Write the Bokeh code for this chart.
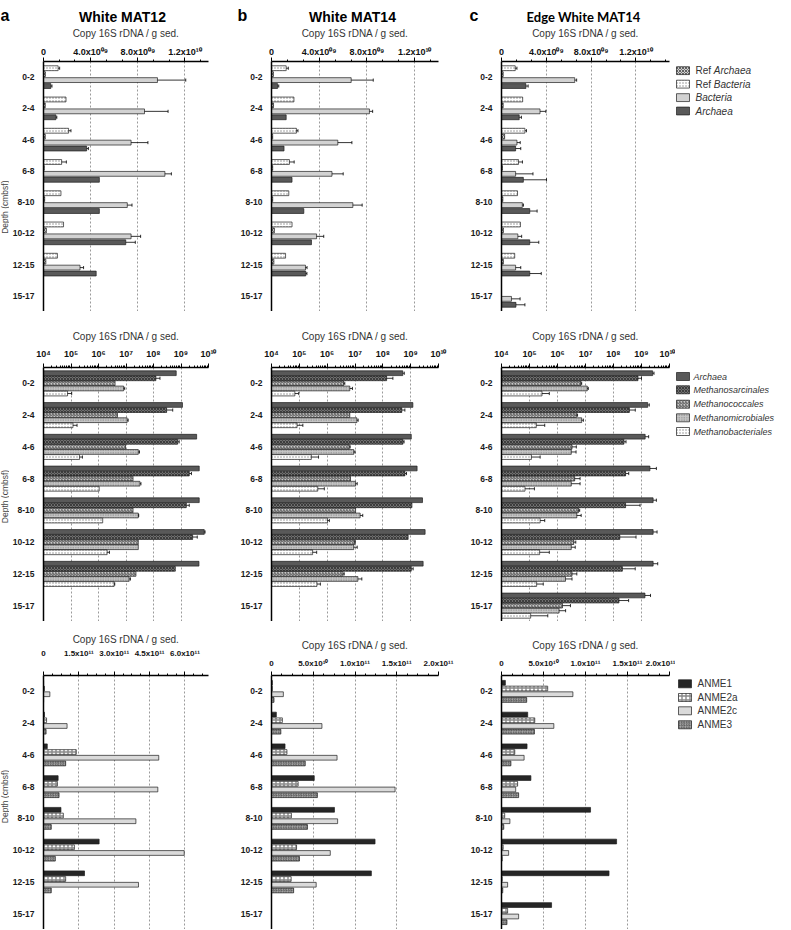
import math
from bokeh.plotting import figure
from bokeh.models import Range1d, FixedTicker, ColumnDataSource
from bokeh.layouts import row, column
from bokeh.embed import file_html
from bokeh.resources import INLINE
from bokeh.core.properties import value

FONT = "Liberation Sans"

depths = ["0-2", "2-4", "4-6", "6-8", "8-10", "10-12", "12-15", "15-17"]

# ---------------- Row 1: total 16S (linear) ----------------
a_ref_bac = [1.24e9, 1.91e9, 2.13e9, 1.54e9, 1.48e9, 1.70e9, 1.18e9, None]
a_ref_bac_err = [0.13e9, 0, 0.2e9, 0.4e9, 0, 0, 0, None]
a_ref_arc = [0.16e9, 0.15e9, 0.15e9, 0.06e9, 0.10e9, 0.24e9, 0.20e9, None]
a_bac = [9.67e9, 8.57e9, 7.43e9, 10.3e9, 7.11e9, 7.43e9, 3.1e9, None]
a_bac_err = [2.4e9, 2.0e9, 1.43e9, 0.55e9, 0.4e9, 0.81e9, 0.3e9, None]
a_arc = [0.62e9, 1.05e9, 3.66e9, 4.74e9, 4.74e9, 6.98e9, 4.47e9, None]
a_arc_err = [0.1e9, 0.08e9, 0.15e9, 0, 0, 0.81e9, 0, None]

b_ref_bac = [1.23e9, 1.88e9, 2.09e9, 1.50e9, 1.45e9, 1.72e9, 1.18e9, None]
b_ref_bac_err = [0.18e9, 0, 0.13e9, 0.4e9, 0, 0, 0, None]
b_ref_arc = [0.16e9, 0.17e9, 0.10e9, 0.10e9, 0.10e9, 0.24e9, 0.20e9, None]
b_bac = [6.68e9, 8.21e9, 5.56e9, 5.07e9, 6.82e9, 3.78e9, 2.85e9, None]
b_bac_err = [1.85e9, 0.27e9, 1.18e9, 0.94e9, 0.78e9, 0.6e9, 0.13e9, None]
b_arc = [0.51e9, 1.23e9, 1.05e9, 1.72e9, 2.71e9, 3.35e9, 2.87e9, None]
b_arc_err = [0.1e9, 0, 0, 0, 0, 0, 0.1e9, None]

c_ref_bac = [1.23e9, 1.89e9, 2.09e9, 1.52e9, 1.43e9, 1.69e9, 1.18e9, None]
c_ref_bac_err = [0.15e9, 0, 0.14e9, 0.35e9, 0, 0, 0, None]
c_ref_arc = [0.15e9, 0.15e9, 0.28e9, 0.08e9, 0.12e9, 0.17e9, 0.17e9, None]
c_bac = [6.54e9, 3.44e9, 1.38e9, 1.26e9, 1.86e9, 1.46e9, 1.26e9, 0.89e9]
c_bac_err = [0.17e9, 0.52e9, 0.29e9, 1.55e9, 0.1e9, 0.34e9, 0.46e9, 0.77e9]
c_arc = [2.18e9, 1.58e9, 1.26e9, 1.95e9, 2.52e9, 2.52e9, 2.52e9, 1.29e9]
c_arc_err = [0.2e9, 0.2e9, 0.46e9, 2.07e9, 0.66e9, 0.81e9, 1.03e9, 0.8e9]

# ---------------- Row 2: archaeal orders (log) ----------------
a_arch2 = [6.7e8, 1.13e9, 3.7e9, 4.6e9, 4.6e9, 7.0e9, 4.5e9, None]
a_arch2_err = [0, 0, 0, 0, 0, 0.5e9, 0, None]
a_msar = [1.22e8, 3.0e8, 7.6e8, 2.0e9, 1.56e9, 2.65e9, 6.2e8, None]
a_msar_err = [0.5e8, 2.0e8, 1.0e8, 0.4e9, 0.44e9, 1.25e9, 0, None]
a_mcoc = [4.0e6, 4.9e6, 9.6e6, 1.8e7, 1.8e7, 2.8e7, 2.3e7, None]
a_mcoc_err = [0, 0, 0, 0, 0, 0, 0, None]
a_mmic = [8.2e6, 1.1e7, 2.8e7, 3.2e7, 2.8e7, 2.8e7, 1.3e7, None]
a_mmic_err = [0.8e6, 0.1e7, 0.3e7, 0.3e7, 0.1e7, 0, 0.15e7, None]
a_mbac = [7.5e4, 1.18e5, 2.05e5, 1.06e6, 1.42e6, 2.06e6, 3.7e6, None]
a_mbac_err = [3.1e4, 0.48e5, 0.55e5, 0, 0, 0.44e6, 0.2e6, None]

b_arch2 = [5.2e8, 1.2e9, 1.05e9, 1.7e9, 2.66e9, 3.3e9, 2.8e9, None]
b_arch2_err = [0.7e8, 0, 0, 0, 0, 0, 0, None]
b_msar = [1.37e8, 4.8e8, 5.3e8, 6.2e8, 1.11e9, 8.1e8, 1.05e9, None]
b_msar_err = [0.93e8, 1.4e8, 0.5e8, 0.9e8, 0, 0, 0.18e9, None]
b_mcoc = [3.9e6, 6.5e6, 6.2e6, 6.9e6, 1.05e7, 9.7e6, 3.7e6, None]
b_mcoc_err = [0.4e6, 0, 0.5e6, 0, 0, 0.5e6, 0.4e6, None]
b_mmic = [6.5e6, 1.17e7, 9.0e6, 1.05e7, 1.53e7, 9.0e6, 1.27e7, None]
b_mmic_err = [1.6e6, 0.13e7, 1.0e6, 0.15e7, 0.37e7, 3.0e6, 0.49e7, None]
b_mbac = [6.9e4, 8.3e4, 2.7e5, 4.6e5, 1.03e6, 3.0e5, 4.3e5, None]
b_mbac_err = [2.6e4, 5.1e4, 2.2e5, 3.3e5, 0.17e6, 1.2e5, 1.4e5, None]

c_arch2 = [2.5e9, 1.67e9, 1.35e9, 2.0e9, 2.6e9, 2.6e9, 2.6e9, 1.33e9]
c_arch2_err = [0.3e9, 0.23e9, 0.45e9, 1.4e9, 0.8e9, 1.0e9, 1.2e9, 0.77e9]
c_msar = [7.5e8, 3.7e8, 2.37e8, 2.7e8, 2.7e8, 1.68e8, 2.07e8, 1.57e8]
c_msar_err = [2.5e8, 2.3e8, 0.43e8, 0.8e8, 6.2e8, 4.7e8, 3.9e8, 1.9e8]
c_mcoc = [6.8e6, 4.7e6, 3.3e6, 4.1e6, 5.6e6, 3.8e6, 3.3e6, 1.5e6]
c_mcoc_err = [0.5e6, 0.5e6, 1.4e6, 2.3e6, 0.6e6, 0.7e6, 1.6e6, 1.4e6]
c_mmic = [1.16e7, 7.3e6, 3.1e6, 3.1e6, 4.9e6, 3.1e6, 1.93e6, 1.14e6]
c_mmic_err = [0.1e7, 1.1e6, 1.5e6, 3.3e6, 2.1e6, 1.2e6, 1.37e6, 0.81e6]
c_mbac = [2.8e5, 1.75e5, 1.17e5, 6.9e4, 2.4e5, 2.3e5, 1.8e5, 1.1e5]
c_mbac_err = [2.3e5, 1.75e5, 1.23e5, 8.1e4, 1.1e5, 2.8e5, 1.3e5, 3.4e5]

# ---------------- Row 3: ANME groups (linear) ----------------
a_anme1 = [0.05e10, 0.4e10, 1.6e10, 6.2e10, 7.4e10, 23.6e10, 17.4e10, None]
a_anme2a = [0.4e10, 1.3e10, 13.9e10, 5.9e10, 8.4e10, 13.1e10, 9.4e10, None]
a_anme2c = [2.7e10, 10.0e10, 48.9e10, 48.5e10, 39.2e10, 59.7e10, 40.3e10, None]
a_anme3 = [0.05e10, 1.1e10, 9.4e10, 6.6e10, 3.3e10, 5.0e10, 3.3e10, None]

b_anme1 = [0.1e10, 0.58e10, 1.62e10, 5.12e10, 7.54e10, 12.4e10, 11.96e10, None]
b_anme2a = [0.1e10, 1.3e10, 1.85e10, 3.19e10, 2.38e10, 3.0e10, 2.35e10, None]
b_anme2c = [1.42e10, 6.04e10, 7.85e10, 14.8e10, 7.92e10, 7.04e10, 5.35e10, None]
b_anme3 = [0.3e10, 1.12e10, 4.04e10, 5.5e10, 4.31e10, 3.35e10, 2.65e10, None]

c_anme1 = [0.46e10, 3.12e10, 3.04e10, 3.5e10, 10.6e10, 13.7e10, 12.8e10, 5.96e10]
c_anme2a = [5.5e10, 3.96e10, 1.58e10, 1.92e10, 0.38e10, 0.2e10, 0.08e10, 0.73e10]
c_anme2c = [8.5e10, 6.23e10, 2.69e10, 1.69e10, 1.0e10, 0.85e10, 0.73e10, 2.04e10]
c_anme3 = [3.0e10, 3.92e10, 1.12e10, 2.04e10, 0.27e10, 0.08e10, 0.15e10, 0.65e10]

# ---------------- ticks ----------------
lin1_ticks = [0, 4.0e9, 8.0e9, 1.2e10]
lin1_labels = ["0", "4.0x10\u2070\u2079", "8.0x10\u2070\u2079", "1.2x10\u00b9\u2070"]
log_ticks = [1e4, 1e5, 1e6, 1e7, 1e8, 1e9, 1e10]
log_labels = ["10\u2074", "10\u2075", "10\u2076", "10\u2077", "10\u2078", "10\u2079", "10\u00b9\u2070"]
anme_a_ticks = [0, 1.5e11, 3.0e11, 4.5e11, 6.0e11]
anme_a_labels = ["0", "1.5x10\u00b9\u00b9", "3.0x10\u00b9\u00b9", "4.5x10\u00b9\u00b9", "6.0x10\u00b9\u00b9"]
anme_bc_ticks = [0, 5.0e10, 1.0e11, 1.5e11, 2.0e11]
anme_bc_labels = ["0", "5.0x10\u00b9\u2070", "1.0x10\u00b9\u00b9", "1.5x10\u00b9\u00b9", "2.0x10\u00b9\u00b9"]

lin1_minor = [k * 4e9 / 3 for k in range(1, 12) if k % 3]
log_minor = [m * 10 ** d for d in range(4, 10) for m in range(2, 10)]
anme_a_minor = [k * 1.5e11 / 4 for k in range(1, 19) if k % 4]
anme_bc_minor = [k * 5e10 / 4 for k in range(1, 17) if k % 4]

# ---------------- styles ----------------
S_REF_ARC = dict(fill_color="#cfcfcf", hatch_pattern="diagonal_cross", hatch_color="#333333", hatch_scale=3.0, hatch_weight=0.7)
S_REF_BAC = dict(fill_color="#ffffff", hatch_pattern="dot", hatch_color="#8a8a8a", hatch_scale=3.0, hatch_weight=0.6)
S_BAC = dict(fill_color="#d2d2d2")
S_ARC = dict(fill_color="#595959")
S_MSAR = dict(fill_color="#707070", hatch_pattern="diagonal_cross", hatch_color="#262626", hatch_scale=3.0, hatch_weight=0.7)
S_MCOC = dict(fill_color="#c8c8c8", hatch_pattern="right_diagonal_line", hatch_color="#3c3c3c", hatch_scale=3.0, hatch_weight=0.8)
S_MMIC = dict(fill_color="#c6c6c6", hatch_pattern="dot", hatch_color="#7a7a7a", hatch_scale=2.5, hatch_weight=0.5)
S_MBAC = S_REF_BAC
S_ANME1 = dict(fill_color="#262626")
S_ANME2A = dict(fill_color="#ffffff", hatch_pattern="cross", hatch_color="#8a8a8a", hatch_scale=4.0, hatch_weight=1.4)
S_ANME2C = dict(fill_color="#dadada")
S_ANME3 = dict(fill_color="#a8a8a8", hatch_pattern="right_diagonal_line", hatch_color="#4a4a4a", hatch_scale=2.5, hatch_weight=0.7)

LINE = dict(line_color="#1e1e1e", line_width=0.7)


def panel(series, x_lo, x_hi, log, ticks, labels, minors, width, height, bl, br, bt,
          pitch, bh, lab_stand, ax_stand, tick_font="9px"):
    p = figure(width=width, height=height, x_range=Range1d(x_lo, x_hi), y_range=Range1d(8, 0),
               x_axis_type="log" if log else "linear", x_axis_location="above",
               toolbar_location=None, output_backend="svg", title=None,
               min_border_left=bl, min_border_right=br, min_border_top=bt, min_border_bottom=0)
    n = len(series)
    for k, (vals, errs, sty) in enumerate(series):
        off = (k - (n - 1) / 2) * pitch
        ys = [i + 0.5 + off for i, v in enumerate(vals) if v is not None]
        xs = [v for v in vals if v is not None]
        src = ColumnDataSource(dict(y=ys, right=xs, left=[x_lo] * len(xs)))
        p.hbar(y="y", left="left", right="right", height=bh, source=src, **LINE, **sty)
        if errs is not None:
            ey, ex0, ex1 = [], [], []
            for i, (v, e) in enumerate(zip(vals, errs)):
                if v is None or not e:
                    continue
                ey.append(i + 0.5 + off)
                ex0.append(v)
                ex1.append(v + e)
            if ey:
                es = ColumnDataSource(dict(y=ey, x0=ex0, x1=ex1,
                                           y0=[y - 0.05 for y in ey], y1=[y + 0.05 for y in ey]))
                p.segment(x0="x0", y0="y", x1="x1", y1="y", source=es, line_color="black", line_width=0.8)
                p.segment(x0="x1", y0="y0", x1="x1", y1="y1", source=es, line_color="black", line_width=0.8)
    ax = p.xaxis[0]
    ax.ticker = FixedTicker(ticks=ticks, minor_ticks=minors)
    ax.major_label_overrides = {t: l for t, l in zip(ticks, labels)}
    ax.axis_label = "Copy 16S rDNA / g sed."
    ax.axis_label_text_font = FONT
    ax.axis_label_text_font_size = "10px"
    ax.axis_label_text_font_style = "normal"
    ax.axis_label_text_color = "#333333"
    ax.axis_label_standoff = ax_stand
    ax.major_label_text_font = FONT
    ax.major_label_text_font_size = tick_font
    ax.major_label_text_font_style = "bold"
    ax.major_label_text_color = "#111111"
    ax.major_label_standoff = lab_stand
    ax.axis_line_width = 1.5
    ax.major_tick_out = 4
    ax.major_tick_in = 0
    ax.minor_tick_out = 2
    ax.minor_tick_in = 0
    ax.major_tick_line_width = 1
    ax.minor_tick_line_width = 1
    ya = p.yaxis[0]
    ya.ticker = FixedTicker(ticks=[i + 0.5 for i in range(len(depths))], minor_ticks=[])
    ya.major_label_overrides = {i + 0.5: d for i, d in enumerate(depths)}
    ya.major_label_text_font = FONT
    ya.major_label_text_font_size = "8.5px"
    ya.major_label_text_font_style = "bold"
    ya.major_label_text_color = "#1a1a1a"
    ya.major_label_standoff = 3
    ya.major_tick_line_color = None
    ya.minor_tick_line_color = None
    ya.axis_line_width = 1.5
    p.ygrid.visible = False
    p.xgrid.grid_line_color = "#808080"
    p.xgrid.grid_line_dash = "2 2"
    p.xgrid.grid_line_width = 0.8
    p.outline_line_color = None
    return p


def blank(w, h, xr, yr, bt=0):
    p = figure(width=w, height=h, x_range=Range1d(*xr), y_range=Range1d(*yr),
               x_axis_location=None, y_axis_location=None, toolbar_location=None,
               output_backend="svg", title=None, min_border=0,
               min_border_left=0, min_border_right=0, min_border_top=bt, min_border_bottom=0)
    p.grid.visible = False
    p.outline_line_color = None
    return p


# layout geometry (page pixels; layout starts at x=8, y=0)
X0 = 8
X_END = 783
W_YL, W_A, W_B, W_C = 9, 228, 230, 208
X_LEG = X0 + W_YL + W_A + W_B + W_C
W_L = X_END - X_LEG
BL_A, BL_B, BL_C = 26, 28, 29
BR_A, BR_B, BR_C = 29, 29, 6
HEADER_H = 24
rows_geo = [  # (height, border_top, page_top)
    (287, 33, 24),
    (310, 56, 311),
    (308, 54, 621),
]

# header
header = blank(X_END - X0, HEADER_H, (X0, X_END), (HEADER_H, 0))
header.text(x=[8, 245, 477], y=[15, 15, 15], text=["a", "b", "c"], text_font=value(FONT),
            text_font_size="16px", text_font_style="bold", text_align="left",
            text_baseline="alphabetic", text_color="#000000")
header.text(x=[130, 360], y=[16, 16], text=["White MAT12", "White MAT14"], text_font=value(FONT),
            text_font_size="14px", text_font_style="bold", text_align="center",
            text_baseline="alphabetic", text_color="#000000")
header.text(x=[591], y=[16], text=["Edge White MAT14"], text_font=value("Lato"),
            text_font_size="13px", text_font_style="bold", text_align="center",
            text_baseline="alphabetic", text_color="#000000")


def ylab(h, bt, top, cy):
    ftop = top + bt
    f = blank(W_YL, h, (X0, X0 + W_YL), (top + h, ftop), bt)
    f.text(x=[12.5], y=[cy], text=["Depth (cmbsf)"], angle=math.pi / 2, text_font=value(FONT),
           text_font_size="8.5px", text_align="center", text_baseline="middle", text_color="#444444")
    return f


def legend(h, bt, top, entries, box_x, text_x, ys, fsize):
    ftop = top + bt
    f = blank(W_L, h, (X_LEG, X_END), (top + h, ftop), bt)
    for (lbl_parts, sty), y in zip(entries, ys):
        f.rect(x=[box_x + 6.5], y=[y], width=13, height=8, **LINE, **sty)
        x = text_x
        for txt, style, wdt in lbl_parts:
            f.text(x=[x], y=[y], text=[txt], text_font=value(FONT), text_font_size=fsize,
                   text_font_style=style, text_align="left", text_baseline="middle",
                   text_color="#333333")
            x += wdt
    return f


rows = []

# ---- row 1 ----
h, bt, top = rows_geo[0]
p1a = panel([(a_ref_bac, a_ref_bac_err, S_REF_BAC), (a_ref_arc, None, S_REF_ARC),
             (a_bac, a_bac_err, S_BAC), (a_arc, a_arc_err, S_ARC)],
            0, 1.4e10, False, lin1_ticks, lin1_labels, lin1_minor, W_A, h, BL_A, BR_A, bt,
            0.19, 0.155, 1, 5)
p1b = panel([(b_ref_bac, b_ref_bac_err, S_REF_BAC), (b_ref_arc, None, S_REF_ARC),
             (b_bac, b_bac_err, S_BAC), (b_arc, b_arc_err, S_ARC)],
            0, 1.4e10, False, lin1_ticks, lin1_labels, lin1_minor, W_B, h, BL_B, BR_B, bt,
            0.19, 0.155, 1, 5)
p1c = panel([(c_ref_bac, c_ref_bac_err, S_REF_BAC), (c_ref_arc, None, S_REF_ARC),
             (c_bac, c_bac_err, S_BAC), (c_arc, c_arc_err, S_ARC)],
            0, 1.5e10, False, lin1_ticks, lin1_labels, lin1_minor, W_C, h, BL_C, BR_C, bt,
            0.19, 0.155, 1, 5)
leg1 = legend(h, bt, top, [
    ([("Ref ", "normal", 18.3), ("Archaea", "italic", 0)], S_REF_ARC),
    ([("Ref ", "normal", 18.3), ("Bacteria", "italic", 0)], S_REF_BAC),
    ([("Bacteria", "italic", 0)], S_BAC),
    ([("Archaea", "italic", 0)], S_ARC),
], 684, 703, [66.3, 80, 93.7, 107.3], "10px")
rows.append(row(ylab(h, bt, top, 205), p1a, p1b, p1c, leg1))

# ---- row 2 ----
h, bt, top = rows_geo[1]
def r2(ar, are, ms, mse, mc, mce, mm, mme, mb, mbe, w, bl, br):
    return panel([(ar, are, S_ARC), (ms, mse, S_MSAR), (mc, mce, S_MCOC), (mm, mme, S_MMIC), (mb, mbe, S_MBAC)],
                 1e4, 1e10, True, log_ticks, log_labels, log_minor, w, h, bl, br, bt,
                 0.16, 0.15, 5, 4)
p2a = r2(a_arch2, a_arch2_err, a_msar, a_msar_err, a_mcoc, a_mcoc_err, a_mmic, a_mmic_err, a_mbac, a_mbac_err, W_A, BL_A, BR_A)
p2b = r2(b_arch2, b_arch2_err, b_msar, b_msar_err, b_mcoc, b_mcoc_err, b_mmic, b_mmic_err, b_mbac, b_mbac_err, W_B, BL_B, BR_B)
p2c = r2(c_arch2, c_arch2_err, c_msar, c_msar_err, c_mcoc, c_mcoc_err, c_mmic, c_mmic_err, c_mbac, c_mbac_err, W_C, BL_C, BR_C)
leg2 = legend(h, bt, top, [
    ([("Archaea", "italic", 0)], S_ARC),
    ([("Methanosarcinales", "italic", 0)], S_MSAR),
    ([("Methanococcales", "italic", 0)], S_MCOC),
    ([("Methanomicrobiales", "italic", 0)], S_MMIC),
    ([("Methanobacteriales", "italic", 0)], S_MBAC),
], 684, 701, [376, 389.3, 403.7, 417.3, 431], "9px")
rows.append(row(ylab(h, bt, top, 496), p2a, p2b, p2c, leg2))

# ---- row 3 ----
h, bt, top = rows_geo[2]
p3a = panel([(a_anme1, None, S_ANME1), (a_anme2a, None, S_ANME2A), (a_anme2c, None, S_ANME2C), (a_anme3, None, S_ANME3)],
            0, 7.0e11, False, anme_a_ticks, anme_a_labels, anme_a_minor, W_A, h, BL_A, BR_A, bt,
            0.18, 0.15, 14, 1, "8px")
p3b = panel([(b_anme1, None, S_ANME1), (b_anme2a, None, S_ANME2A), (b_anme2c, None, S_ANME2C), (b_anme3, None, S_ANME3)],
            0, 2.0e11, False, anme_bc_ticks, anme_bc_labels, anme_bc_minor, W_B, h, BL_B, BR_B, bt,
            0.18, 0.15, 4, 5, "8px")
p3c = panel([(c_anme1, None, S_ANME1), (c_anme2a, None, S_ANME2A), (c_anme2c, None, S_ANME2C), (c_anme3, None, S_ANME3)],
            0, 2.0e11, False, anme_bc_ticks, anme_bc_labels, anme_bc_minor, W_C, h, BL_C, BR_C, bt,
            0.18, 0.15, 4, 5, "8px")
leg3 = legend(h, bt, top, [
    ([("ANME1", "normal", 0)], S_ANME1),
    ([("ANME2a", "normal", 0)], S_ANME2A),
    ([("ANME2c", "normal", 0)], S_ANME2C),
    ([("ANME3", "normal", 0)], S_ANME3),
], 686, 705, [683.3, 697, 710.3, 724.3], "10px")
rows.append(row(ylab(h, bt, top, 796), p3a, p3b, p3c, leg3))

layout = column(header, *rows)
open("out.html", "w").write(file_html(layout, INLINE))
